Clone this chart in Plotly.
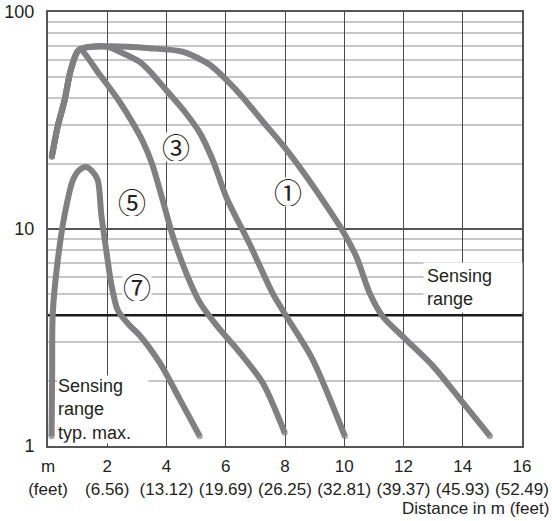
import math
import plotly.graph_objects as go

# ---------------- data ----------------
# Curve 1 (largest range)
x1 = [0.13, 0.33, 0.56, 0.78, 1.06, 1.98, 3.43, 4.54, 5.46, 6.03, 6.57, 7.25, 7.92,
      8.6, 9.27, 9.95, 10.42, 10.86, 11.3, 12.11, 12.99, 13.9, 14.92]
y1 = [21.6, 29.8, 39.2, 54.8, 67.1, 69.4, 68.1, 65.6, 57.1, 48.5, 40.5, 31.3, 24.4,
      18.4, 13.6, 9.8, 7.39, 5.06, 3.95, 3.07, 2.34, 1.65, 1.11]

# Curve 3
x3 = [0.13, 0.33, 0.56, 0.78, 1.06, 1.98, 2.42, 3.09, 3.43, 4.0, 4.61, 5.12, 5.56,
      6.03, 6.81, 7.58, 8.05, 8.93, 10.02]
y3 = [21.6, 29.8, 39.2, 54.8, 67.1, 69.4, 65.6, 59.0, 53.4, 43.5, 34.8, 27.8, 20.8,
      13.9, 8.5, 5.06, 3.95, 2.51, 1.11]

# Curve 5
x5 = [0.13, 0.33, 0.56, 0.78, 1.06, 1.74, 2.42, 2.85, 3.19, 3.5, 3.87, 4.21, 4.68,
      5.12, 5.69, 6.47, 7.25, 7.99]
y5 = [21.6, 29.8, 39.2, 54.8, 67.1, 51.5, 38.5, 31.0, 25.5, 20.2, 13.6, 9.3, 6.2,
      4.6, 3.6, 2.7, 1.95, 1.15]

# Curve 7
x7 = [0.12, 0.14, 0.16, 0.33, 0.56, 0.84, 1.06, 1.29, 1.5, 1.68, 1.80, 1.97, 2.14,
      2.36, 2.75, 3.09, 3.77, 4.44, 5.12]
y7 = [1.11, 2.15, 4.07, 7.18, 11.6, 16.8, 18.7, 19.3, 18.4, 16.8, 11.6, 7.92, 5.54,
      4.21, 3.6, 3.24, 2.42, 1.65, 1.11]

# Sensing-range threshold
threshold_value = 4
threshold_x = [0, 16]

# Axis ticks
x_ticks = [0, 2, 4, 6, 8, 10, 12, 14, 16]
x_labels_m = ["m", "2", "4", "6", "8", "10", "12", "14", "16"]
x_labels_ft = ["(feet)", "(6.56)", "(13.12)", "(19.69)", "(26.25)", "(32.81)",
               "(39.37)", "(45.93)", "(52.49)"]
y_ticks = [1, 10, 100]
y_labels = ["1", "10", "100"]
y_minor = [2, 3, 4, 5, 6, 7, 8, 9, 20, 30, 40, 50, 60, 70, 80, 90]

# Curve labels: (text, x, y)
curve_labels = [("①", 8.1, 14.8), ("③", 4.31, 23.8), ("⑤", 2.82, 13.3), ("⑦", 2.99, 5.4)]

# ---------------- figure ----------------
FONT = "Liberation Sans"
CURVE = "#808083"
TXT = "#231f20"

fig = go.Figure()

fig.add_trace(go.Scatter(x=threshold_x, y=[threshold_value] * len(threshold_x),
                         mode="lines", line=dict(color="#1a1a1a", width=2.5),
                         hoverinfo="skip", showlegend=False))

for xs, ys in [(x1, y1), (x3, y3), (x5, y5), (x7, y7)]:
    sizes = [0] * len(xs)
    sizes[0] = 6
    sizes[-1] = 6
    fig.add_trace(go.Scatter(x=xs, y=ys, mode="lines+markers",
                             line=dict(color=CURVE, width=6, shape="spline", smoothing=0.8),
                             marker=dict(color=CURVE, size=sizes, line=dict(width=0)),
                             showlegend=False))

annotations = []
for txt, ax, ay in curve_labels:
    annotations.append(dict(x=ax, y=math.log10(ay), xref="x", yref="y", text=txt,
                            showarrow=False, bgcolor="white", borderpad=0,
                            width=28, height=28, valign="middle",
                            font=dict(family="Noto Sans CJK JP", size=28, color=TXT)))

annotations.append(dict(x=12.65, y=math.log10(threshold_value), xref="x", yref="y",
                        xanchor="left", yanchor="bottom", yshift=2, width=92, align="left",
                        text="Sensing<br>range", showarrow=False, bgcolor="white", borderpad=3,
                        font=dict(family=FONT, size=18, color=TXT)))

annotations.append(dict(x=0.3, y=0, xref="x", yref="paper", xanchor="left",
                        yanchor="bottom", yshift=2, width=90, align="left",
                        text="Sensing<br>range<br>typ. max.", showarrow=False,
                        bgcolor="white", borderpad=0,
                        font=dict(family=FONT, size=18, color=TXT)))

annotations.append(dict(x=1.061, y=-0.145, xref="paper", yref="paper", xanchor="right",
                        yanchor="middle", text="Distance in m (feet)", showarrow=False,
                        font=dict(family=FONT, size=17, color=TXT)))

fig.update_layout(
    width=552, height=521,
    margin=dict(l=48, r=30, t=12, b=75, autoexpand=False),
    paper_bgcolor="white", plot_bgcolor="white",
    font=dict(family=FONT, size=18, color=TXT),
    annotations=annotations,
    showlegend=False,
)

fig.update_xaxes(
    range=[0, 16], tickvals=x_ticks,
    ticktext=[f"{a}<br>{b}" for a, b in zip(x_labels_m, x_labels_ft)],
    tickangle=0, showgrid=True, gridcolor="#4a4a4a", gridwidth=1,
    zeroline=False, showline=True, linecolor="#555555", linewidth=2, mirror=True,
    ticks="outside", ticklen=4, tickcolor="rgba(0,0,0,0)", automargin=False,
    tickfont=dict(family=FONT, size=17, color=TXT),
)

fig.update_yaxes(
    type="log", range=[0, 2], tickvals=y_ticks, ticktext=y_labels,
    showgrid=True, gridcolor="#555555", gridwidth=1.5,
    minor=dict(tickvals=y_minor, showgrid=True, gridcolor="#c8c8c8", gridwidth=1.5, ticks=""),
    zeroline=False, showline=True, linecolor="#555555", linewidth=2, mirror=True,
    ticks="outside", ticklen=8, tickcolor="rgba(0,0,0,0)", automargin=False,
    tickfont=dict(family=FONT, size=18, color=TXT),
)

fig.write_html("out.html",
               config={"displayModeBar": False},
               post_script="document.body.style.margin='0';document.body.style.overflow='hidden';")
